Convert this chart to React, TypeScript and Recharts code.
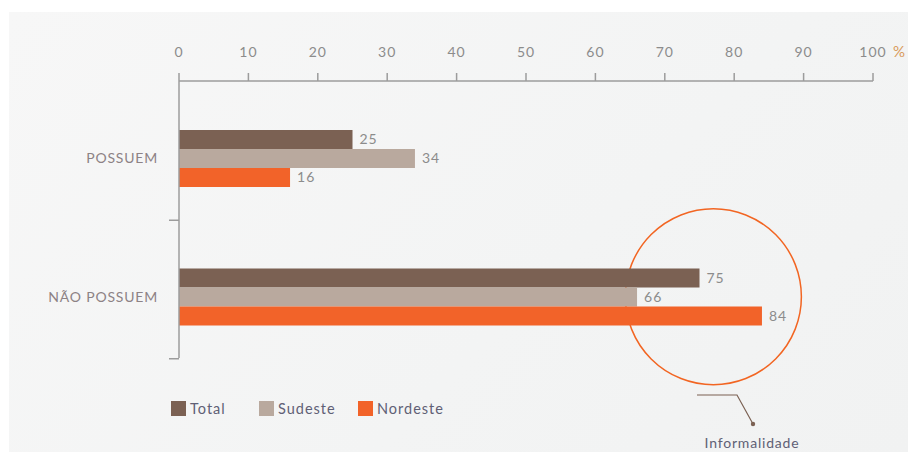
import { BarChart, Bar, XAxis, YAxis, LabelList, ReferenceDot, Legend } from 'recharts';

const categories = ['POSSUEM', 'NÃO POSSUEM'];
const totalValues = [25, 75];
const sudesteValues = [34, 66];
const nordesteValues = [16, 84];
const xTicks = [0, 10, 20, 30, 40, 50, 60, 70, 80, 90, 100];

const colors = {
  total: '#7b6153',
  sudeste: '#b9a99e',
  nordeste: '#f26329',
  axis: '#9c9c9c',
  tick: '#8c8c8c',
  cat: '#8d8285',
  legend: '#5f6075',
};

const font = 'Lato, "Open Sans", sans-serif';

const data = categories.map((name, i) => ({
  name,
  total: totalValues[i],
  sudeste: sudesteValues[i],
  nordeste: nordesteValues[i],
}));

const legendItems = [
  { label: 'Total', color: colors.total, width: 88 },
  { label: 'Sudeste', color: colors.sudeste, width: 99 },
  { label: 'Nordeste', color: colors.nordeste, width: 100 },
];

function CategoryTick(props: any) {
  const { x, y, payload } = props;
  const axisX = x + 21;
  return (
    <g>
      <text x={x} y={y} dy={5} textAnchor="end" fill={colors.cat} fontSize={14} letterSpacing={0.8} fontFamily={font}>
        {payload.value}
      </text>
      <line x1={axisX - 10} y1={y + 62} x2={axisX} y2={y + 62} stroke={colors.axis} strokeWidth={1.5} />
    </g>
  );
}

function LegendContent() {
  return (
    <div style={{ display: 'flex', fontFamily: font, fontSize: 14.5, letterSpacing: 1, color: colors.legend }}>
      {legendItems.map((it) => (
        <div key={it.label} style={{ display: 'flex', alignItems: 'center', width: it.width }}>
          <span style={{ display: 'inline-block', width: 15, height: 15, background: it.color, marginRight: 4 }} />
          <span>{it.label}</span>
        </div>
      ))}
    </div>
  );
}

export default function App() {
  return (
    <div style={{ position: 'absolute', left: 0, top: 0, width: 908, height: 454, background: '#fff', overflow: 'hidden' }}>
      <div
        style={{
          position: 'absolute',
          left: 9,
          top: 12,
          width: 899,
          height: 440,
          background: 'linear-gradient(135deg, #f7f7f7 0%, #f3f4f4 60%, #f1f2f2 100%)',
        }}
      />
      <div style={{ position: 'absolute', left: 0, top: 0 }}>
        <BarChart
          width={908}
          height={454}
          data={data}
          layout="vertical"
          margin={{ top: 51, right: 35, bottom: 96, left: 9 }}
          barGap={0}
          barSize={19}
        >
          <XAxis
            type="number"
            orientation="top"
            domain={[0, 100]}
            ticks={xTicks}
            height={30}
            tickSize={8}
            tickMargin={16}
            axisLine={{ stroke: colors.axis, strokeWidth: 1.5 }}
            tickLine={{ stroke: colors.axis, strokeWidth: 1.5 }}
            tick={{ fill: colors.tick, fontSize: 14, fontFamily: font, letterSpacing: 1 }}
            interval={0}
          />
          <YAxis
            type="category"
            dataKey="name"
            width={170}
            tickSize={0}
            tickMargin={21}
            padding={{ top: 8, bottom: -8 }}
            axisLine={{ stroke: colors.axis, strokeWidth: 1.5 }}
            tickLine={false}
            tick={<CategoryTick />}
          />
          <ReferenceDot
            x={77}
            y="NÃO POSSUEM"
            r={88}
            fill="none"
            stroke="#f26522"
            strokeWidth={1.5}
            ifOverflow="visible"
            zIndex={100}
          />
          <Bar dataKey="total" name="Total" fill={colors.total} isAnimationActive={false}>
            <LabelList dataKey="total" position="right" offset={7} fill={colors.tick} fontSize={14} letterSpacing={1} fontFamily={font} />
          </Bar>
          <Bar dataKey="sudeste" name="Sudeste" fill={colors.sudeste} isAnimationActive={false}>
            <LabelList dataKey="sudeste" position="right" offset={7} fill={colors.tick} fontSize={14} letterSpacing={1} fontFamily={font} />
          </Bar>
          <Bar dataKey="nordeste" name="Nordeste" fill={colors.nordeste} isAnimationActive={false}>
            <LabelList dataKey="nordeste" position="right" offset={7} fill={colors.tick} fontSize={14} letterSpacing={1} fontFamily={font} />
          </Bar>
          <Legend
            content={<LegendContent />}
            layout="horizontal"
            verticalAlign="middle"
            align="center"
            wrapperStyle={{ left: 171, top: 400, width: 320 }}
          />
        </BarChart>
      </div>
      <svg width={908} height={454} style={{ position: 'absolute', left: 0, top: 0, pointerEvents: 'none' }}>
        <text x={893} y={57} fill="#d99a5a" fontSize={15} fontFamily={font}>%</text>
        <polyline points="697,395 737,395 753,424" fill="none" stroke={colors.total} strokeWidth={1.2} />
        <circle cx={753} cy={424} r={2.2} fill={colors.total} />
        <text x={752} y={448} textAnchor="middle" fill={colors.legend} fontSize={14} letterSpacing={0.8} fontFamily={font}>
          Informalidade
        </text>
      </svg>
    </div>
  );
}
